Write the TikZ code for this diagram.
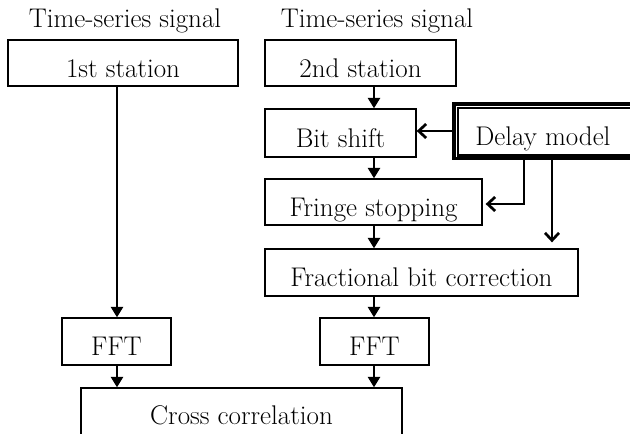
\documentclass[tikz,border=0pt]{standalone}
\usepackage{fontspec}
\usetikzlibrary{arrows.meta}
\newcommand{\boxfont}{\fontsize{27}{32}\selectfont\addfontfeatures{FakeStretch=0.9,FakeBold=0.5}}
\begin{document}
\begin{tikzpicture}[x=1pt,y=-1pt,
  box/.style={draw, line width=1.3pt, inner sep=0pt, minimum height=46pt,
    text height=28pt, text depth=0pt, font=\boxfont},
  lbl/.style={inner sep=0pt, anchor=base, font=\boxfont},
  flow/.style={line width=2.7pt, -{Triangle[width=12pt,length=10.5pt]}},
  feed/.style={line width=2.7pt, -{Straight Barb[width=14pt,length=7.5pt]}}]
\useasboundingbox (0,0) rectangle (630,434);

% headings
\node[lbl] (t1) at (125,27) {Time-series signal};
\node[lbl] (t2) at (377,27) {Time-series signal};

% processing blocks
\node[box, minimum width=230pt] (s1) at (123,63) {1st station};
\node[box, minimum width=191pt] (s2) at (360.5,63) {2nd station};
\node[box, minimum width=151pt, minimum height=48pt] (bs) at (340.5,133) {Bit shift};
\node[box, minimum width=217pt] (fs) at (373.5,202) {Fringe stopping};
\node[box, minimum width=313pt, minimum height=47pt] (fb) at (421.5,272.5) {Fractional bit correction};
\node[box, minimum width=109pt, minimum height=47pt] (f1) at (116.5,341.5) {FFT};
\node[box, minimum width=109pt, minimum height=47pt] (f2) at (374.5,341.5) {FFT};
\node[box, minimum width=321pt, minimum height=54pt, text height=18pt] (cc) at (241.5,415) {Cross correlation};

% delay model: double frame running off the right edge
\node[box, line width=3.5pt, minimum width=186pt, minimum height=54.5pt] (dm) at (546.9,131) {\hspace*{-8pt}Delay model};
\draw[line width=2.2pt] ([shift={(6pt,-6pt)}]dm.north west) rectangle ([shift={(10pt,4.5pt)}]dm.south east);

% signal columns
\coordinate (c1) at (117,0);
\coordinate (c2) at (374,0);
\coordinate (j1) at (524,204);
\coordinate (j2) at (552,0);

\draw[flow] (s1.south -| c1) -- (f1.north -| c1);
\draw[flow] (f1.south -| c1) -- (cc.north -| c1);
\draw[flow] (s2.south -| c2) -- (bs.north -| c2);
\draw[flow] (bs.south -| c2) -- (fs.north -| c2);
\draw[flow] (fs.south -| c2) -- (fb.north -| c2);
\draw[flow] (fb.south -| c2) -- (f2.north -| c2);
\draw[flow] (f2.south -| c2) -- (cc.north -| c2);

% delay model outputs
\draw[feed] (dm.west) -- (dm.west -| bs.east);
\draw[feed, shorten >=3pt] (dm.south -| j1) -- (j1) -- (j1 -| fs.east);
\draw[feed, shorten >=6pt] (dm.south -| j2) -- (fb.north -| j2);
\end{tikzpicture}
\end{document}
